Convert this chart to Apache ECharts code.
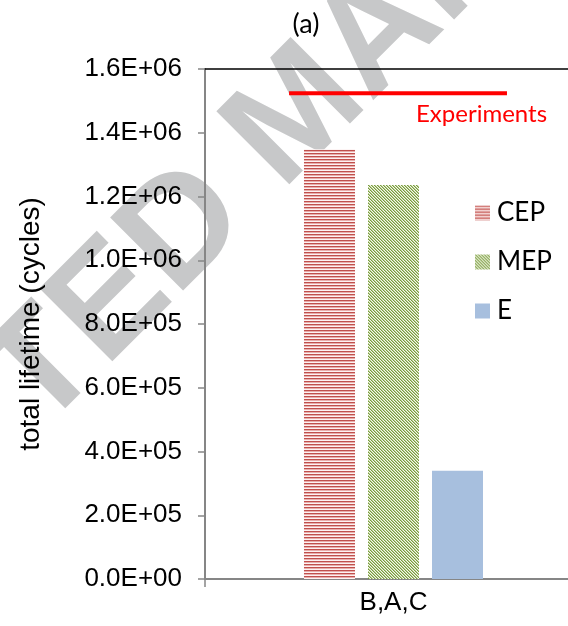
<!DOCTYPE html>
<html>
<head>
<meta charset="utf-8">
<script src="https://cdn.jsdelivr.net/npm/echarts@6/dist/echarts.min.js"></script>
<style>html,body{margin:0;padding:0;background:#fff;}#c{width:568px;height:626px;}</style>
</head>
<body>
<div id="c"></div>
<script>
// ---- data ----
const categories = ['B,A,C'];
const seriesNames = ['CEP', 'MEP', 'E'];
const cepValues = [1348000];
const mepValues = [1236000];
const eValues = [340000];
const experimentValue = 1524000;
const experimentLabel = 'Experiments';
const yTickLabels = ['0.0E+00','2.0E+05','4.0E+05','6.0E+05','8.0E+05','1.0E+06','1.2E+06','1.4E+06','1.6E+06'];

// ---- styles ----
const expSpan = [0.223, 0.801]; // horizontal extent of the experiments line (fraction of plot width)

function stripePattern() {
  const c = document.createElement('canvas');
  c.width = 4; c.height = 3;
  const g = c.getContext('2d');
  const rows = ['#c0504d', '#e8aeac', '#fdf2f2'];
  rows.forEach((col, i) => { g.fillStyle = col; g.fillRect(0, i, 4, 1); });
  return c;
}
function diagPattern() {
  const c = document.createElement('canvas');
  c.width = 3; c.height = 3;
  const g = c.getContext('2d');
  const cols = ['#789a3e', '#b9cd90', '#f6f9ef'];
  for (let x = 0; x < 3; x++) for (let y = 0; y < 3; y++) {
    g.fillStyle = cols[((x - y) % 3 + 3) % 3];
    g.fillRect(x, y, 1, 1);
  }
  return c;
}

const chart = echarts.init(document.getElementById('c'), null, {renderer: 'canvas'});
const axisGray = '#868686';
const option = {
  backgroundColor: '#fff',
  animation: false,
  graphic: [{
    type: 'text', z: -10, zlevel: 0,
    x: 300, y: 115, rotation: Math.PI / 4,
    style: {
      text: 'ACCEPTED MANUSCRIPT', fill: '#c7c8c9',
      font: 'bold 150px "Liberation Sans"', align: 'center', verticalAlign: 'middle'
    }
  }, {
    type: 'text', z: 10, x: 306, y: 24,
    style: {text: '(a)', fill: '#000', font: '27px Lato', align: 'center', verticalAlign: 'middle'}
  }, {
    type: 'text', z: 10, x: 416, y: 114,
    style: {text: experimentLabel, fill: '#ff0000', font: '24px Lato', verticalAlign: 'middle'}
  }],
  legend: {
    orient: 'vertical', left: 470, top: 195,
    itemWidth: 15, itemHeight: 15, itemGap: 23,
    icon: 'rect',
    data: seriesNames,
    textStyle: {fontFamily: 'Lato', fontSize: 26, color: '#000', lineHeight: 26, padding: [0, 0, 0, 2]}
  },
  grid: {left: 205, width: 377, top: 69, height: 510, outerBoundsMode: 'none', containLabel: false},
  xAxis: [{
    type: 'category', data: categories, position: 'bottom',
    axisLine: {lineStyle: {color: axisGray, width: 2}},
    axisTick: {show: true, length: 8, lineStyle: {color: axisGray, width: 1.5}},
    axisLabel: {fontFamily: 'Liberation Sans', fontSize: 26, color: '#000', margin: 11},
    splitLine: {show: false}
  }, {
    type: 'value', min: 0, max: 1, position: 'top',
    axisLine: {show: true, lineStyle: {color: '#000', width: 1.5}},
    axisTick: {show: false}, axisLabel: {show: false}, splitLine: {show: false}
  }],
  yAxis: {
    type: 'value', min: 0, max: 1600000, interval: 200000,
    name: 'total lifetime (cycles)', nameLocation: 'middle', nameGap: 160, nameRotate: 90,
    nameTextStyle: {fontFamily: 'Liberation Sans', fontSize: 28, color: '#000'},
    axisLine: {show: true, lineStyle: {color: axisGray, width: 2}},
    axisTick: {show: true, length: 7, lineStyle: {color: axisGray, width: 1.5}},
    axisLabel: {
      fontFamily: 'Liberation Sans', fontSize: 26, color: '#000', margin: 23,
      formatter: v => yTickLabels[Math.round(v / 200000)]
    },
    splitLine: {show: false}
  },
  series: [
    {name: seriesNames[0], type: 'bar', data: cepValues, barWidth: 51, barGap: '25.5%',
     itemStyle: {color: {image: stripePattern(), repeat: 'repeat'}}},
    {name: seriesNames[1], type: 'bar', data: mepValues, barWidth: 51, barGap: '25.5%',
     itemStyle: {color: {image: diagPattern(), repeat: 'repeat'}}},
    {name: seriesNames[2], type: 'bar', data: eValues, barWidth: 51, barGap: '25.5%',
     itemStyle: {color: '#a7bfde'}},
    {name: experimentLabel, type: 'line', xAxisIndex: 1, symbol: 'none',
     data: [[expSpan[0], experimentValue], [expSpan[1], experimentValue]],
     lineStyle: {color: '#ff0000', width: 4}, z: 5}
  ]
};
chart.setOption(option);
</script>
</body>
</html>
